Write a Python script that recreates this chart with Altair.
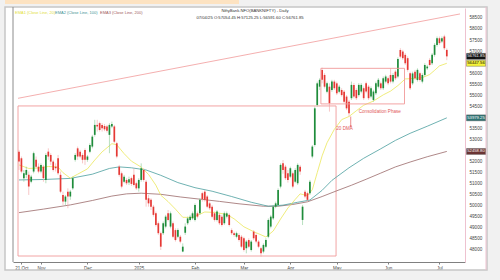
import altair as alt
import pandas as pd

FONT = "Liberation Sans"

opens = [52450, 52150, 51250, 51400, 51400, 51090, 51550, 52080, 51770, 51550,
         51770, 51170, 52450, 52300, 52000, 51770, 52150, 51400, 50490, 50190,
         50640, 50420, 50790, 52080, 52600, 52450, 52300, 52530, 52080, 52450,
         52680, 53210, 53660, 53740, 53660, 53610, 53590, 53210, 53590, 53590,
         52830, 51770, 51470, 51090, 51170, 51050, 51250, 51400, 51020, 50790,
         51170, 51620, 51090, 50340, 50270, 49960, 49660, 49210, 48760, 48760,
         49060, 49660, 49060, 49210, 48900, 48600, 48600, 47930, 48780, 49210,
         49360, 49430, 49360, 49660, 49660, 50570, 50640, 50420, 50110, 49960,
         49660, 49360, 49590, 49510, 49210, 49510, 49590, 48900, 48760, 48600,
         48680, 48600, 48530, 48080, 48450, 48000, 48830, 48680, 48380, 48080,
         47930, 48150, 48600, 49060, 49430, 49960, 50040, 50870, 51920, 51770,
         51470, 51320, 51470, 51090, 51020, 51770, 49360, 50640, 50570, 50570,
         52230, 52750, 54560, 55390, 56150, 55920, 55160, 55390, 55240, 55620,
         55540, 55160, 55240, 55160, 54940, 54710, 54870, 55470, 55240, 55010,
         55170, 55320, 55540, 55390, 54940, 54790, 55090, 55390, 55540, 55320,
         55620, 55770, 55920, 55620, 56070, 55850, 57050, 56980, 56830, 56680,
         56000, 55540, 56070, 55690, 56000, 55620, 55920, 56220, 56600, 56450,
         56830, 57280, 57580, 57430, 57660, 57054]
highs = [52530, 52230, 51620, 51770, 51550, 51400, 52450, 52230, 51920, 51920,
         51850, 52380, 52600, 52380, 52080, 51920, 52300, 51550, 50640, 50490,
         50790, 50720, 51320, 52380, 52680, 52530, 52380, 52600, 52300, 52830,
         53210, 53890, 53890, 53810, 53740, 53700, 53660, 53740, 53810, 53660,
         52900, 51850, 51550, 51400, 51250, 51320, 51320, 51690, 51090, 51250,
         51920, 51700, 51170, 50490, 50340, 50040, 49740, 49290, 48830, 49290,
         49590, 49810, 49740, 49290, 48980, 48980, 48680, 48300, 49210, 49510,
         49590, 49740, 50110, 49740, 50340, 50640, 50720, 50490, 50190, 50040,
         49740, 49810, 49660, 49590, 49740, 49740, 49660, 48980, 48830, 48830,
         48760, 48680, 48600, 48450, 48530, 48450, 48900, 48760, 48450, 48150,
         48300, 48530, 49430, 49590, 50040, 50190, 50790, 51920, 52070, 51850,
         51620, 51770, 51550, 51700, 51920, 51850, 50040, 50720, 50640, 51170,
         52750, 54490, 55620, 55770, 56250, 56000, 55620, 55540, 55700, 55700,
         55620, 55470, 55320, 55240, 55010, 54790, 55620, 55550, 55320, 55550,
         55550, 55400, 55620, 55470, 55400, 55250, 55620, 55780, 55620, 55850,
         55930, 55850, 56220, 56000, 56150, 56720, 57130, 57060, 56910, 56760,
         56070, 56070, 56150, 56220, 56070, 56000, 56450, 56380, 56680, 56910,
         57360, 57660, 57660, 57660, 57740, 57125]
lows = [51620, 51470, 51090, 51250, 50490, 51020, 51470, 51700, 51470, 51470,
        51090, 51020, 52080, 51850, 51550, 51550, 51400, 50570, 50040, 50040,
        49890, 50270, 50720, 52000, 52080, 52150, 51920, 51850, 51990, 52380,
        52600, 53130, 53360, 53360, 53360, 53380, 53310, 52380, 53510, 52830,
        52150, 51320, 50790, 51020, 50940, 50940, 50900, 50870, 50720, 50640,
        51090, 51090, 49960, 49960, 49810, 49510, 49060, 48680, 48000, 48680,
        48980, 49290, 48980, 48530, 48380, 48530, 48300, 47900, 48680, 49130,
        49290, 49360, 49290, 49430, 49590, 50190, 50190, 49890, 49810, 49430,
        49290, 49290, 49130, 49060, 49130, 49430, 49060, 48680, 48600, 48530,
        48380, 48080, 47930, 47850, 48080, 47930, 48450, 48300, 48080, 47700,
        47850, 48080, 48530, 48980, 49360, 49890, 49960, 50790, 51450, 51170,
        51050, 51250, 50790, 51020, 50940, 51400, 49130, 50340, 50190, 50490,
        52150, 52680, 54490, 55240, 55540, 55310, 55090, 54260, 55160, 55240,
        55010, 55090, 54940, 54640, 54330, 54040, 54790, 54860, 54790, 54940,
        55090, 54790, 55090, 54790, 54860, 54710, 55010, 55310, 55240, 55240,
        55540, 55460, 55540, 55540, 55690, 55770, 56670, 56600, 56370, 56070,
        55240, 55460, 55690, 55620, 55620, 55540, 55850, 56150, 56300, 56370,
        56750, 57200, 57280, 57360, 57050, 56590]
closes = [52000, 51550, 51470, 51620, 50870, 51320, 52380, 51770, 51550, 51850,
          51250, 52300, 52230, 52000, 51620, 51700, 51470, 50640, 50190, 50420,
          50420, 50640, 51250, 52300, 52230, 52230, 52080, 52080, 52230, 52750,
          53130, 53660, 53590, 53430, 53510, 53460, 53400, 53660, 53700, 52900,
          52230, 51400, 50870, 51320, 51020, 51200, 50990, 50940, 50790, 51170,
          51700, 51170, 50270, 50110, 49960, 49590, 49130, 48760, 48150, 49210,
          49510, 49360, 49660, 48600, 48450, 48900, 48380, 48150, 49060, 49430,
          49510, 49660, 50040, 49510, 50270, 50300, 50270, 49960, 49890, 49510,
          49360, 49740, 49210, 49130, 49660, 49660, 49130, 48760, 48680, 48760,
          48450, 48150, 48000, 48380, 48150, 48380, 48530, 48380, 48150, 47850,
          48230, 48450, 49360, 49510, 49960, 50110, 50720, 51850, 51620, 51250,
          51170, 51700, 50870, 51620, 51850, 51550, 49960, 50420, 50270, 51090,
          52680, 54410, 55540, 55700, 55700, 55390, 55540, 54640, 55620, 55320,
          55090, 55390, 55010, 54710, 54410, 54190, 55470, 54940, 54870, 55470,
          55470, 54870, 55170, 54870, 55320, 55170, 55540, 55700, 55320, 55770,
          55850, 55540, 55620, 55920, 55770, 56640, 56750, 56680, 56450, 56150,
          55320, 55990, 55770, 56150, 55690, 55920, 56370, 56300, 56370, 56830,
          57280, 57580, 57360, 57580, 57130, 56762]

ema20_x = [0, 4, 8, 12, 16, 18, 21, 24, 28, 31, 34, 38, 40, 43, 46, 50, 53, 56, 58,
           61, 64, 67, 71, 76, 80, 85, 88, 92, 96, 101, 104, 107, 110, 113, 115, 118,
           120, 122, 124, 126, 129, 132, 135, 138, 141, 145, 149, 152, 155, 158, 161,
           165, 168, 170, 172, 175]
ema20_y = [51850, 51690, 51710, 51780, 51750, 51500, 51250, 51430, 51670, 52070, 52440,
           52810, 52760, 52360, 52020, 51750, 51420, 50930, 50480, 50190, 49850, 49480,
           49470, 49720, 49700, 49610, 49410, 49050, 48830, 48590, 48860, 49400, 49900,
           50290, 50540, 50460, 50730, 51500, 52260, 52850, 53460, 53900, 54040, 54300,
           54550, 54740, 55020, 55190, 55440, 55740, 55760, 55800, 55940, 56130, 56330,
           56448]
ema100_x = [0, 10, 21, 30, 37, 41, 46, 52, 58, 65, 72, 79, 87, 95, 102, 108, 114, 119,
            124, 128, 135, 141, 148, 154, 160, 167, 175]
ema100_y = [51170, 51190, 51240, 51430, 51690, 51760, 51720, 51620, 51380, 51050, 50820,
            50660, 50420, 50160, 49980, 50030, 50160, 50260, 50700, 51150, 51720, 52150,
            52580, 52960, 53280, 53600, 53980]
ema200_x = [0, 10, 21, 30, 38, 44, 50, 58, 66, 74, 82, 90, 100, 106, 112, 118, 124, 130,
            136, 142, 148, 154, 160, 167, 175]
ema200_y = [49690, 49850, 50040, 50240, 50440, 50540, 50570, 50520, 50400, 50300, 50200,
            50090, 49980, 49980, 50060, 50180, 50420, 50680, 50930, 51200, 51480, 51760,
            51980, 52220, 52460]

month_pos = [1, 9, 28, 49, 72, 92, 111, 130, 151, 172]
month_lbl = ["21 Oct", "Nov", "Dec", "2025", "Feb", "Mar", "Apr", "May", "Jun", "Jul"]
# price labels that the reference shows (those under the value tags are covered)
price_ticks = [48000, 48500, 49000, 49500, 50000, 50500, 51000, 51500, 52000,
               53000, 53500, 54500, 55000, 55500, 56000, 57000, 57500, 58000, 58500]

trend_i = [-0.4, 180.4]
trend_v = [54864, 58681]
support_i = [-0.4, 129.7]
support_v = [47728, 54518]
consol_i = [123.5, 157.7]
consol_v = [54610, 56220]

tag_v = [56761.85, 56447.56, 53979.25, 52458.80]
tag_lbl = ["56761.85", "56447.56", "53979.25", "52458.80"]

title1 = "NiftyBank.NFO(BANKNIFTY) - Daily"
title2 = "07/04/25 O:57054.45 H:57125.25 L:56591.60 C:56761.85"
legend_lbl = ["EMA1 (Close Line, 20)", "EMA2 (Close Line, 100)", "EMA3 (Close Line, 200)"]

# ---------------------------------------------------------------
GREEN, RED = "#1f8c3b", "#e53935"
YEL, TEAL, BROWN = "#ebe75a", "#4a9e9e", "#9a6a6a"
PINK = "#f19a9a"
OUT = "#f1f1f1"
W, H = 452, 254

xs = alt.Scale(domain=[-0.4, 180.4], nice=False, zero=False)
ys = alt.Scale(domain=[47457, 58950], nice=False, zero=False)

lbl_expr = ("[" + ",".join("'" + s + "'" for s in month_lbl) + "][indexof(["
            + ",".join(str(p) for p in month_pos) + "], datum.value)]")

X_AX = alt.Axis(values=month_pos, labelExpr=lbl_expr, title=None, grid=False,
                domainColor="#808080", domainWidth=1, tickColor="#808080", tickSize=2,
                labelFontSize=4.5, labelColor="#444444", labelPadding=1, labelFont=FONT,
                labelOverlap=False, labelFlush=False)
Y_AX = alt.Axis(orient="right", values=price_ticks, title=None, grid=False,
                domainColor="#eec2d0", domainWidth=1, ticks=False, labelFontSize=4.6,
                labelColor="#444444", labelPadding=4, labelFont=FONT, format="d",
                labelOverlap=False)


def X(f):
    return alt.X(f + ":Q", scale=xs, axis=X_AX)


def Y(f):
    return alt.Y(f + ":Q", scale=ys, axis=Y_AX)


one = pd.DataFrame({"a": [0]})


def strip(x1, x2, y1, y2, col):
    return alt.Chart(one).mark_rect(fill=col).encode(
        x=alt.value(x1), x2=alt.value(x2), y=alt.value(y1), y2=alt.value(y2))


outer = [
    strip(-13, -8, -8, 272, OUT),
    strip(474, 487, -8, 272, OUT),
    strip(-13, 487, 262, 272, OUT),
    strip(-13, 487, -8, -1, OUT),
    strip(-8, 226, -8, -4, "#fde3c2"),
]
frame = alt.Chart(one).mark_rect(fillOpacity=0, stroke="#c6c6c6", strokeWidth=1.5).encode(
    x=alt.value(-8), x2=alt.value(474), y=alt.value(-1), y2=alt.value(262))
left_line = alt.Chart(one).mark_rule(color="#8c8c8c", strokeWidth=1).encode(
    x=alt.value(0), y=alt.value(-1), y2=alt.value(254))
right_line = alt.Chart(one).mark_rule(color="#eec2d0", strokeWidth=1).encode(
    x=alt.value(473), y=alt.value(-1), y2=alt.value(262))

df = pd.DataFrame({"i": list(range(len(closes))), "o": opens, "h": highs,
                   "l": lows, "c": closes})

trend = alt.Chart(pd.DataFrame({"i": trend_i, "v": trend_v})).mark_line(
    color=PINK, strokeWidth=0.8).encode(x=X("i"), y=Y("v"))

sup = pd.DataFrame({"i1": [support_i[0]], "i2": [support_i[1]],
                    "v1": [support_v[0]], "v2": [support_v[1]]})
support = alt.Chart(sup).mark_rect(fillOpacity=0, stroke=PINK, strokeWidth=0.9).encode(
    x=X("i1"), x2="i2", y=Y("v1"), y2="v2")
con = pd.DataFrame({"i1": [consol_i[0]], "i2": [consol_i[1]],
                    "v1": [consol_v[0]], "v2": [consol_v[1]]})
consol = alt.Chart(con).mark_rect(fillOpacity=0, stroke=PINK, strokeWidth=0.9).encode(
    x=X("i1"), x2="i2", y=Y("v1"), y2="v2")


def ema(xv, yv, col):
    return alt.Chart(pd.DataFrame({"i": xv, "v": yv})).mark_line(
        color=col, strokeWidth=0.8).encode(x=X("i"), y=Y("v"))


cond_w = alt.condition("datum.c >= datum.o", alt.value("#86c994"), alt.value("#f3a3a3"))
cond_b = alt.condition("datum.c >= datum.o", alt.value(GREEN), alt.value(RED))
wicks = alt.Chart(df).mark_rule(strokeWidth=0.6).encode(
    x=X("i"), y=Y("l"), y2="h", color=cond_w)
bodies = alt.Chart(df).mark_bar(size=1.7).encode(
    x=X("i"), y=Y("o"), y2="c", color=cond_b)

notes = pd.DataFrame({"i": [147.6, 133.2], "v": [54259, 53463],
                      "t": ["Consolidation Phase", "20 DMA"]})
note_txt = alt.Chart(notes).mark_text(font=FONT, fontSize=4.6, color="#e25a5a").encode(
    x=X("i"), y=Y("v"), text="t:N")
arrow = alt.Chart(pd.DataFrame({"i": [135.7], "v1": [54040], "v2": [53560]})).mark_rule(
    color="#e25a5a", strokeWidth=0.7).encode(x=X("i"), y=Y("v1"), y2="v2")
arrow_head = alt.Chart(pd.DataFrame({"i": [135.7], "v": [53600]})).mark_point(
    shape="triangle-down", filled=True, size=5, color="#e25a5a").encode(x=X("i"), y=Y("v"))

tags = pd.DataFrame({"v": tag_v, "t": tag_lbl,
                     "fill": ["#111111", "#f6f33a", "#2f7474", "#6b3434"],
                     "tc": ["#ffffff", "#000000", "#ffffff", "#ffffff"]})
tags["lo"] = tags["v"] - 135
tags["hi"] = tags["v"] + 135
tag_rect = alt.Chart(tags).mark_rect(stroke="#555555", strokeWidth=0.4).encode(
    x=alt.value(453.5), x2=alt.value(472.5), y=Y("lo"), y2="hi",
    fill=alt.Fill("fill:N", scale=None))
tag_text = alt.Chart(tags).mark_text(font=FONT, fontSize=4.2).encode(
    x=alt.value(463), y=Y("v"), text="t:N", color=alt.Color("tc:N", scale=None))

leg = pd.DataFrame({"t": legend_lbl, "px": [2, 42, 87],
                    "col": ["#e2e03a", "#3e9494", "#a05a5a"]})
legend_txt = alt.Chart(leg).mark_text(font=FONT, fontSize=4, align="left").encode(
    x=alt.X("px:Q", scale=None), y=alt.value(4.5), text="t:N",
    color=alt.Color("col:N", scale=None))

t1 = alt.Chart(one).mark_text(font=FONT, fontSize=4.2, color="#333333").encode(
    x=alt.value(242), y=alt.value(3), text=alt.value(title1))
t2 = alt.Chart(one).mark_text(font=FONT, fontSize=4.2, color="#333333").encode(
    x=alt.value(237), y=alt.value(9.5), text=alt.value(title2))

chart = alt.layer(
    *outer, frame, left_line, right_line, support, trend,
    ema(ema200_x, ema200_y, BROWN), ema(ema100_x, ema100_y, TEAL),
    ema(ema20_x, ema20_y, YEL),
    wicks, bodies, consol, note_txt, arrow, arrow_head,
    tag_rect, tag_text, legend_txt, t1, t2
).properties(
    width=W, height=H, background="white",
    padding={"left": 13, "top": 8, "right": 35, "bottom": 18},
    autosize=alt.AutoSizeParams(type="none")
).configure_view(strokeWidth=0)

chart.save("out.html", embed_options={"renderer": "svg", "actions": False})
